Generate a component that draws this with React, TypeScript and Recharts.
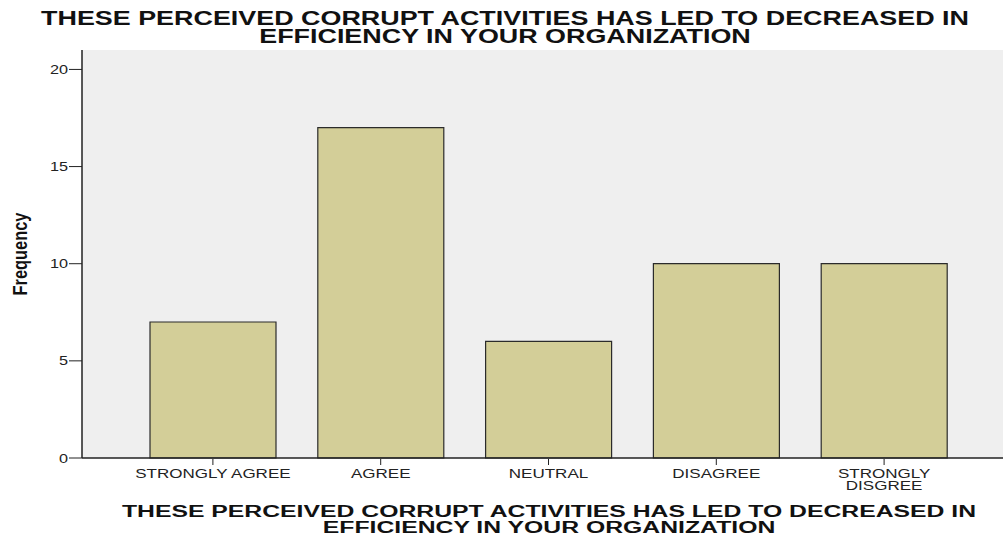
import { Bar, BarChart, CartesianGrid, Label, XAxis, YAxis } from "recharts";

const CATEGORIES = ["STRONGLY AGREE", "AGREE", "NEUTRAL", "DISAGREE", "STRONGLY\nDISGREE"];
const FREQUENCY = [7, 17, 6, 10, 10];
const Y_TICKS = [0, 5, 10, 15, 20];

const TITLE = "THESE PERCEIVED CORRUPT ACTIVITIES HAS LED TO DECREASED IN";
const TITLE_2 = "EFFICIENCY IN YOUR ORGANIZATION";

const data = CATEGORIES.map((name, i) => ({ name, value: FREQUENCY[i] }));

const font = "Arial, 'Liberation Sans', sans-serif";

// SPSS output uses a horizontally stretched sans face
function Wide({ x, y, sx, size, bold, anchor = "middle", children }: any) {
  return (
    <text
      transform={`translate(${x}, ${y}) scale(${sx}, 1)`}
      textAnchor={anchor}
      fontSize={size}
      fontWeight={bold ? "bold" : "normal"}
      fontFamily={font}
      fill={bold ? "#111" : "#222"}
    >
      {children}
    </text>
  );
}

function CategoryTick(props: any) {
  const { x, y, payload } = props;
  const lines = String(payload.value).split("\n");
  return (
    <g>
      <line x1={x} x2={x} y1={y - 9} y2={y - 3} stroke="#222" />
      {lines.map((l, i) => (
        <Wide key={i} x={x} y={y + 10 + i * 12} sx={1.42} size={12}>
          {l}
        </Wide>
      ))}
    </g>
  );
}

function ValueTick(props: any) {
  const { x, y, payload } = props;
  return (
    <Wide x={x + 1} y={y + 4.5} sx={1.3} size={12.5} anchor="end">
      {payload.value}
    </Wide>
  );
}

export default function App() {
  return (
    <div
      style={{
        position: "absolute",
        left: 0,
        top: 0,
        width: 1003,
        height: 539,
        overflow: "hidden",
        background: "#fff",
      }}
    >
      <BarChart
        width={1015}
        height={539}
        data={data}
        margin={{ top: 50, right: 0, bottom: 0, left: 0 }}
        barSize={126}
      >
        <CartesianGrid fill="#efefef" horizontal={false} vertical={false} />
        <XAxis
          dataKey="name"
          interval={0}
          padding={{ left: 47, right: 47 }}
          axisLine={{ stroke: "#222", strokeWidth: 1.5 }}
          tickLine={false}
          tick={<CategoryTick />}
          tickSize={8}
          height={81}
        />
        <XAxis
          xAxisId="top"
          orientation="top"
          dataKey="name"
          tick={false}
          tickLine={false}
          axisLine={{ stroke: "#555", strokeWidth: 1.5 }}
          height={0}
        />
        <YAxis
          domain={[0, 21]}
          ticks={Y_TICKS}
          width={82}
          axisLine={{ stroke: "#222", strokeWidth: 1.5 }}
          tickLine={{ stroke: "#222" }}
          tickSize={13}
          tick={<ValueTick />}
        >
          <Label
            content={({ viewBox }: any) => (
              <text
                transform={`translate(${viewBox.x + 27}, ${viewBox.y + viewBox.height / 2}) rotate(-90) scale(0.82, 1)`}
                textAnchor="middle"
                fontSize={20}
                fontWeight="bold"
                fontFamily={font}
                fill="#111"
              >
                Frequency
              </text>
            )}
          />
        </YAxis>
        <Bar
          dataKey="value"
          fill="#d3ce98"
          stroke="#2b2b2b"
          strokeWidth={1.2}
          isAnimationActive={false}
        />
      </BarChart>
      <svg
        width={1003}
        height={539}
        style={{ position: "absolute", left: 0, top: 0, pointerEvents: "none" }}
      >
        <Wide x={505} y={25} sx={1.38} size={19.5} bold>
          {TITLE}
        </Wide>
        <Wide x={505} y={42.5} sx={1.38} size={19.5} bold>
          {TITLE_2}
        </Wide>
        <Wide x={549} y={517.3} sx={1.44} size={17.2} bold>
          {TITLE}
        </Wide>
        <Wide x={549} y={532.7} sx={1.44} size={17.2} bold>
          {TITLE_2}
        </Wide>
      </svg>
    </div>
  );
}
